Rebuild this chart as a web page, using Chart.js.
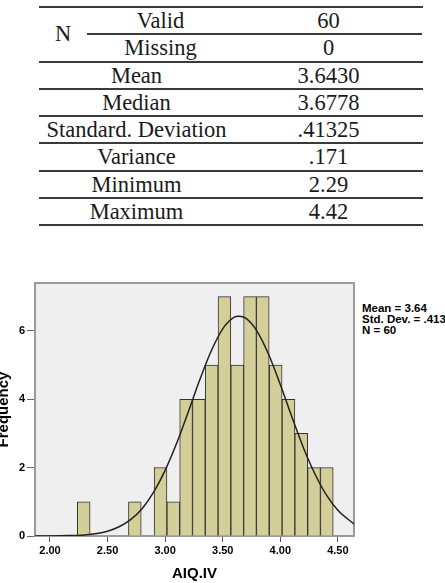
<!DOCTYPE html>
<html>
<head>
<meta charset="utf-8">
<title>AIQ.IV histogram</title>
<script src="https://cdn.jsdelivr.net/npm/chart.js"></script>
<style>
  body { margin: 0; width: 445px; height: 583px; overflow: hidden; background: #fff; position: relative; }
  .cell { position: absolute; font-family: 'Liberation Serif', serif; font-size: 22.5px; color: #1a1a1a;
          text-align: center; white-space: nowrap; }
  .rule { position: absolute; height: 2px; background: #3a3a3a; }
  #stats { position: absolute; left: 362px; top: 303px; font-family: 'Liberation Sans', Arial, sans-serif;
           font-weight: bold; font-size: 11.5px; line-height: 11px; color: #000; white-space: nowrap; }
  #wrap { position: absolute; left: -5px; top: 270px; width: 385px; height: 313px; }
</style>
</head>
<body>

<div id="table"></div>
<div id="stats"></div>
<div id="wrap"><canvas id="hist" width="385" height="313"></canvas></div>

<script>
// table
const nLabels = ['Valid', 'Missing'];
const nValues = ['60', '0'];
const statLabels = ['Mean', 'Median', 'Standard. Deviation', 'Variance', 'Minimum', 'Maximum'];
const statValues = ['3.6430', '3.6778', '.41325', '.171', '2.29', '4.42'];

// histogram: bin centres and counts
const binCenters = [2.293, 2.404, 2.515, 2.626, 2.737, 2.848, 2.960, 3.071, 3.182, 3.293,
                    3.404, 3.515, 3.626, 3.737, 3.848, 3.960, 4.071, 4.182, 4.293, 4.404];
const binCounts  = [1, 0, 0, 0, 1, 0, 2, 1, 4, 4, 5, 7, 5, 7, 7, 5, 4, 3, 2, 2];

// normal curve
const curveX = [1.87, 2.10, 2.30, 2.50, 2.60, 2.70, 2.80, 2.90, 3.00, 3.10, 3.20, 3.30, 3.40,
                3.50, 3.60, 3.64, 3.70, 3.80, 3.90, 4.00, 4.10, 4.20, 4.30, 4.40, 4.50, 4.64];
const curveY = [0.00, 0.01, 0.03, 0.14, 0.27, 0.48, 0.80, 1.28, 1.92, 2.71, 3.62, 4.56, 5.41,
                6.06, 6.40, 6.43, 6.37, 5.98, 5.30, 4.43, 3.49, 2.59, 1.82, 1.20, 0.75, 0.35];

const xTicks = [2.0, 2.5, 3.0, 3.5, 4.0, 4.5];
const yTicks = [0, 2, 4, 6];
const legendLines = ['Mean = 3.64', 'Std. Dev. = .413', 'N = 60'];

// --- table build ---
const table = document.getElementById('table');
const rowTop = 7, rowH = 27.25, left = 39, right = 423, split = 234;

function addCell(text, x0, x1, y0, h) {
    const d = document.createElement('div');
    d.className = 'cell';
    d.textContent = text;
    d.style.left = x0 + 'px';
    d.style.width = (x1 - x0) + 'px';
    d.style.top = y0 + 'px';
    d.style.height = h + 'px';
    d.style.lineHeight = h + 'px';
    table.appendChild(d);
}
function addRule(x0, x1, y) {
    const d = document.createElement('div');
    d.className = 'rule';
    d.style.left = x0 + 'px';
    d.style.width = (x1 - x0) + 'px';
    d.style.top = (y - 1) + 'px';
    table.appendChild(d);
}

addRule(left, right, rowTop);
addCell('N', left, 87, rowTop, rowH * 2);
nLabels.forEach((t, i) => {
    addCell(t, 87, split, rowTop + rowH * i, rowH);
    addCell(nValues[i], split, right, rowTop + rowH * i, rowH);
});
addRule(87, right - 1, rowTop + rowH);
addRule(left, right, rowTop + rowH * 2);
statLabels.forEach((t, i) => {
    const y = rowTop + rowH * (i + 2);
    addCell(t, left, split, y, rowH);
    addCell(statValues[i], split, right, y, rowH);
    addRule(left, right, y + rowH);
});

document.getElementById('stats').innerHTML = legendLines.join('<br>');

// --- chart ---
const plotFrame = {
    id: 'plotFrame',
    beforeDatasetsDraw(chart) {
        const {ctx, chartArea: a} = chart;
        ctx.save();
        ctx.fillStyle = '#efefef';
        ctx.fillRect(a.left, a.top, a.right - a.left, a.bottom - a.top);
        ctx.strokeStyle = '#9a9a9a';
        ctx.lineWidth = 2;
        ctx.strokeRect(a.left, a.top, a.right - a.left, a.bottom - a.top);
        ctx.restore();
    }
};

const tickFont = {family: "'Liberation Sans', Arial, sans-serif", weight: 'bold', size: 11};
const titleFont = {family: "'Liberation Sans', Arial, sans-serif", weight: 'bold', size: 15};

new Chart(document.getElementById('hist'), {
    data: {
        datasets: [{
            type: 'line',
            data: curveX.map((x, i) => ({x: x, y: curveY[i]})),
            borderColor: '#222',
            borderWidth: 1.5,
            pointRadius: 0,
            cubicInterpolationMode: 'monotone',
            order: 0
        }, {
            type: 'bar',
            data: binCenters.map((x, i) => ({x: x, y: binCounts[i]})),
            backgroundColor: '#d4cf98',
            borderColor: '#333',
            borderWidth: 1,
            barPercentage: 1,
            categoryPercentage: 1,
            order: 1
        }]
    },
    options: {
        responsive: false,
        animation: false,
        layout: {padding: {top: 13, right: 26, left: 0, bottom: 0}},
        plugins: {legend: {display: false}, tooltip: {enabled: false}},
        scales: {
            x: {
                type: 'linear',
                offset: false,
                min: 1.87,
                max: 4.64,
                afterBuildTicks: s => { s.ticks = xTicks.map(v => ({value: v})); },
                afterFit: s => { s.height = 47; },
                ticks: {
                    font: tickFont, color: '#000', padding: 2,
                    callback: v => v.toFixed(2)
                },
                grid: {offset: false, drawOnChartArea: false, tickLength: 6, color: '#555'},
                border: {color: '#000', width: 2},
                title: {display: true, text: 'AIQ.IV', font: titleFont, color: '#000', padding: 0}
            },
            y: {
                min: 0,
                max: 7.4,
                afterBuildTicks: s => { s.ticks = yTicks.map(v => ({value: v})); },
                afterFit: s => { s.width = 40; },
                ticks: {font: tickFont, color: '#000', padding: 2},
                grid: {drawOnChartArea: false, tickLength: 8, color: '#666'},
                border: {color: '#000', width: 2},
                title: {display: true, text: 'Frequency', font: titleFont, color: '#000', padding: 0}
            }
        }
    },
    plugins: [plotFrame]
});
</script>
</body>
</html>
